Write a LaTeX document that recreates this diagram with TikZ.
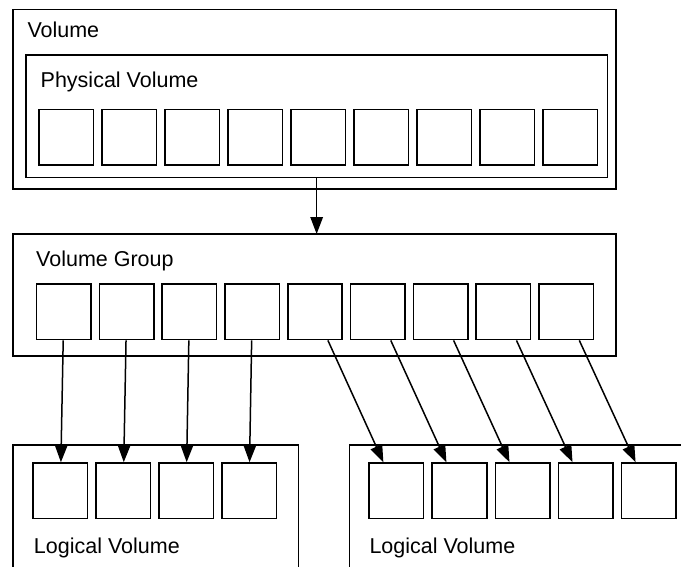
\documentclass[tikz,border=0pt]{standalone}
\usepackage{fontspec}
\setmainfont{Liberation Sans}
\usetikzlibrary{arrows.meta}

\tikzset{
  frame/.style={draw, line width=1.6pt, fill=white, inner sep=0pt, outer sep=0pt, anchor=north west},
  cell/.style={draw, line width=1.6pt, fill=white, inner sep=0pt, anchor=north west,
               minimum width=54.5pt, minimum height=55.5pt},
  caption/.style={anchor=base west, inner sep=0pt, font=\fontsize{21.5}{25}\selectfont},
  link/.style={line width=1.5pt, -{Triangle[length=17pt,width=12.5pt]}}
}

\begin{document}
\begin{tikzpicture}[x=1pt, y=-1pt]
  \path[use as bounding box, clip] (0,0) rectangle (681,566);

  % Volume with its physical volume
  \node[frame, minimum width=603pt, minimum height=179.7pt] (vol) at (12.7,9.3) {};
  \node[caption] (voltxt) at (27.3,37.7) {Volume};
  \node[frame, minimum width=581.3pt, minimum height=122.3pt] (pv) at (26,55) {};
  \node[caption] (pvtxt) at (40.5,87.7) {Physical Volume};
  \foreach \i in {0,...,8}
    \node[cell] (pe\i) at ({38.3+63*\i},108.7) {};

  % Volume group
  \node[frame, minimum width=603pt, minimum height=122pt] (vg) at (12.7,234) {};
  \node[caption] (vgtxt) at (36,266) {Volume Group};
  \foreach \i in {0,...,8}
    \node[cell] (vge\i) at ({35.7+62.8*\i},283.3) {};

  % Logical volumes (running past the lower and right edges)
  \node[frame, minimum width=285.6pt, minimum height=200pt] (lv1) at (12.7,445) {};
  \node[caption] (lv1txt) at (33.8,553) {Logical Volume};
  \foreach \i in {0,...,3}
    \node[cell] (la\i) at ({32.3+62.9*\i},462.2) {};

  \node[frame, minimum width=400pt, minimum height=200pt] (lv2) at (349.3,445) {};
  \node[caption] (lv2txt) at (369.3,553) {Logical Volume};
  \foreach \i in {0,...,4}
    \node[cell] (lb\i) at ({368.3+63.1*\i},462.2) {};

  % Connectors
  \draw[link] (pv.south) -- (pv.south |- vg.north);
  \foreach \i in {0,...,3}
    \draw[link] (vge\i) -- (la\i);
  \foreach \i [evaluate=\i as \j using int(\i-4)] in {4,...,8}
    \draw[link] (vge\i) -- (lb\j);
\end{tikzpicture}
\end{document}
